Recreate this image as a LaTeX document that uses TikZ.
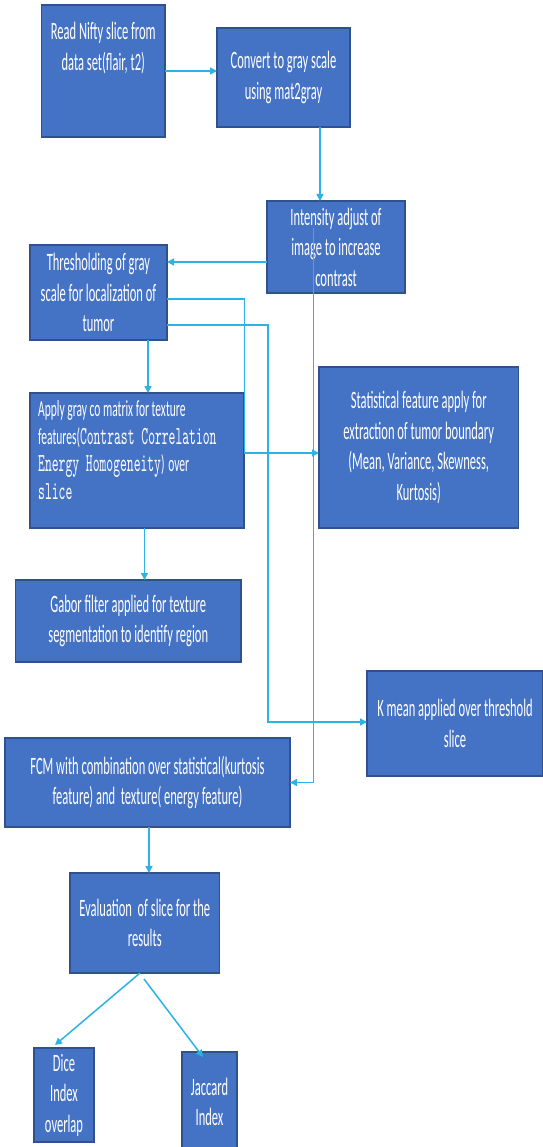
\documentclass[tikz,border=0pt]{standalone}
\usepackage{fontspec}
\usetikzlibrary{arrows.meta,calc}
\newfontfamily\calfont[FakeStretch=0.5]{Carlito}
\newfontfamily\monof{lmmono10-regular.otf}[FakeStretch=0.5]
\definecolor{boxfill}{HTML}{4472C4}
\definecolor{boxline}{HTML}{2F528F}
\definecolor{conncol}{HTML}{2BB3E6}
\newcommand{\mn}[1]{{\monof\fontsize{26}{27.5}\selectfont #1}}
\tikzset{
  procbox/.style={draw=boxline, line width=1.6pt, fill=boxfill, inner sep=0pt, outer sep=0pt},
  txt/.style={text=white, align=center, inner sep=0pt, font=\calfont\fontsize{25}{30.5}\selectfont},
  conn/.style={draw=conncol, line width=1.5pt, -{Triangle[length=7pt,width=7pt]}},
}
\begin{document}
\begin{tikzpicture}[x=1pt,y=-1pt]
\useasboundingbox (0,0) rectangle (542,1147);
\fill[white] (0,0) rectangle (542,1147);

% boxes
\node[procbox, minimum width=123.5pt, minimum height=132pt] (read) at (103.25,71) {};
\node[txt] (readt) at (103.25,48) {Read Nifty slice from\\data set(flair, t2)};

\node[procbox, txt, minimum width=133pt, minimum height=99pt] (conv) at (283.5,77.5) {Convert to gray scale\\using mat2gray};

\node[procbox, txt, minimum width=138pt, minimum height=92pt] (inten) at (336,247) {Intensity adjust of\\image to increase\\contrast};

\node[procbox, txt, minimum width=137pt, minimum height=95pt] (thr) at (98.5,292.5) {Thresholding of gray\\scale for localization of\\tumor};

\node[procbox, minimum width=214pt, minimum height=135pt] (apply) at (137,460.5) {};
\node[txt, align=left, anchor=west, font=\calfont\fontsize{23}{27.5}\selectfont] (applyt) at (38,450) {Apply gray co matrix for texture\\features(\mn{Contrast Correlation}\\\mn{Energy Homogeneity})\,over\\\mn{slice}};

\node[procbox, txt, minimum width=199.5pt, minimum height=161pt] (stat) at (418.75,447.5) {Statistical feature apply for\\extraction of tumor boundary\\(Mean, Variance, Skewness,\\Kurtosis)};

\node[procbox, txt, minimum width=225.5pt, minimum height=82pt] (gabor) at (128.25,621) {Gabor filter applied for texture\\segmentation to identify region};

\node[procbox, txt, minimum width=176pt, minimum height=105pt] (kmean) at (455,723.5) {K mean applied over threshold\\slice};

\node[procbox, txt, minimum width=285pt, minimum height=89pt] (fcm) at (147.5,782.5) {FCM with combination over statistical(kurtosis\\feature) and\ \ texture( energy feature)};

\node[procbox, txt, minimum width=149.5pt, minimum height=100pt] (eval) at (144.75,923) {Evaluation\ \ of slice for the\\results};

\node[procbox, txt, minimum width=60pt, minimum height=94pt] (dice) at (64,1095) {Dice\\Index\\overlap};

\node[procbox, txt, minimum width=55pt, minimum height=100pt] (jac) at (209.5,1102) {Jaccard\\Index};

% helper coordinates
\coordinate (xa) at (320,0);
\coordinate (ya) at (0,262);
\coordinate (xb) at (148,0);
\coordinate (yb) at (0,299);
\coordinate (yc) at (0,453);
\coordinate (yd) at (0,325);
\coordinate (xd) at (268,0);
\coordinate (ye) at (0,722);
\coordinate (xf) at (144.5,0);
\coordinate (xg) at (149,0);
\coordinate (istart) at (313.5,228);

% connectors
\draw[conn] (read.east) -- (conv.west |- read.east);
\draw[conn] (conv.south -| xa) -- (inten.north -| xa);
\draw[conn] (inten.west |- ya) -- (thr.east |- ya);
\draw[conn] (thr.south -| xb) -- (apply.north -| xb);
\draw[conn] (thr.east |- yb) -| ($(apply.east |- yc)+(0.5,0)$) -- (stat.west |- yc);
\draw[conn] (thr.east |- yd) -| (xd |- ye) -- (kmean.west |- ye);
\draw[conn] (istart) |- (fcm.east);
\draw[conn] (apply.south -| xf) -- (gabor.north -| xf);
\draw[conn] (fcm.south -| xg) -- (eval.north -| xg);
\draw[conn] ($(eval.south west)+(70,0)$) -- ($(dice.north west)+(21,-3)$);
\draw[conn] ($(eval.south west)+(74,6)$) -- ($(jac.north west)+(21,5)$);
\end{tikzpicture}
\end{document}
